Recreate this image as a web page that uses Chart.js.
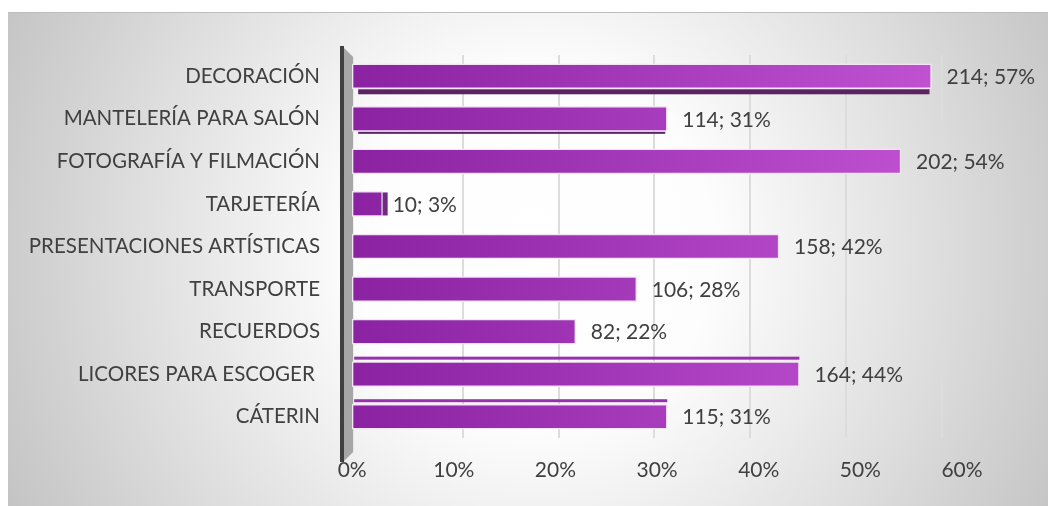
<!DOCTYPE html>
<html>
<head>
<meta charset="utf-8">
<script src="https://cdn.jsdelivr.net/npm/chart.js@4/dist/chart.umd.min.js"></script>
<style>
  html, body { margin: 0; padding: 0; background: #ffffff; }
  #wrap { width: 1048px; height: 506px; position: relative; }
</style>
</head>
<body>
<div id="wrap"><canvas id="c" width="1048" height="506"></canvas></div>
<script>
const categories = ['DECORACIÓN', 'MANTELERÍA PARA SALÓN', 'FOTOGRAFÍA Y FILMACIÓN', 'TARJETERÍA',
  'PRESENTACIONES ARTÍSTICAS', 'TRANSPORTE', 'RECUERDOS', 'LICORES PARA ESCOGER ', 'CÁTERIN'];
const counts = [214, 114, 202, 10, 158, 106, 82, 164, 115];
const percents = [57, 31, 54, 3, 42, 28, 22, 44, 31];
const xTicks = [0, 10, 20, 30, 40, 50, 60];
const gridTicks = [10, 20, 30, 40, 50, 60];

const FONT = 'Lato, "Open Sans", sans-serif';
const TEXT = '#404040';

const bgPlugin = {
  id: 'bg',
  beforeDraw(chart) {
    const ctx = chart.ctx;
    ctx.save();
    ctx.fillStyle = '#ffffff';
    ctx.fillRect(0, 0, chart.width, chart.height);
    const g = ctx.createRadialGradient(535, 250, 0, 535, 250, 600);
    g.addColorStop(0, '#ffffff');
    g.addColorStop(0.3, '#fdfdfd');
    g.addColorStop(1, '#c2c2c2');
    ctx.fillStyle = g;
    ctx.fillRect(8, 12, chart.width - 8, chart.height - 12);
    ctx.strokeStyle = '#bdbdbd';
    ctx.lineWidth = 1;
    ctx.beginPath();
    ctx.moveTo(8, 12.5); ctx.lineTo(chart.width, 12.5);
    ctx.stroke();
    ctx.restore();
  }
};

const wallPlugin = {
  id: 'wall',
  beforeDatasetsDraw(chart) {
    const ctx = chart.ctx, x = chart.scales.x, a = chart.chartArea;
    const wx = x.getPixelForValue(-1);
    const zx = x.getPixelForValue(0);
    const top = a.top - 8, bot = a.bottom + 24;
    ctx.save();
    ctx.fillStyle = '#a6a6a6';
    ctx.beginPath();
    ctx.moveTo(wx + 1, top);
    ctx.lineTo(zx + 1, top + 10);
    ctx.lineTo(zx + 1, bot - 10);
    ctx.lineTo(wx + 1, bot);
    ctx.closePath();
    ctx.fill();
    ctx.fillStyle = '#404040';
    ctx.fillRect(wx - 2, top - 1, 4, bot - top + 1);
    ctx.restore();
  }
};

const depthPlugin = {
  id: 'depth',
  afterDatasetsDraw(chart) {
    const ctx = chart.ctx;
    const meta = chart.getDatasetMeta(0);
    ctx.save();
    meta.data.forEach((bar, i) => {
      const p = bar.getProps(['x', 'y', 'base', 'height'], true);
      const left = p.base, right = p.x;
      if (i === 0 || i === 1) {
        const h = i === 0 ? 5 : 2;
        ctx.fillStyle = '#5c2363';
        ctx.fillRect(left + 6, p.y + p.height / 2 + 0.5, right - left - 8, h);
      }
      if (i === 7 || i === 8) {
        ctx.fillStyle = '#9a2fb0';
        ctx.fillRect(left + 2, p.y - p.height / 2 - 5, right - left - 2, 3);
      }
      if (i === 3) {
        ctx.fillStyle = '#6e2a80';
        ctx.fillRect(right, p.y - p.height / 2 + 1, 5, p.height - 2);
      }
    });
    ctx.restore();
  }
};

const labelPlugin = {
  id: 'vlabels',
  afterDatasetsDraw(chart) {
    const ctx = chart.ctx;
    const meta = chart.getDatasetMeta(0);
    ctx.save();
    ctx.font = '21px ' + FONT;
    ctx.fillStyle = TEXT;
    ctx.textAlign = 'left';
    ctx.textBaseline = 'middle';
    meta.data.forEach((bar, i) => {
      const p = bar.getProps(['x', 'y'], true);
      ctx.fillText(counts[i] + '; ' + percents[i] + '%', p.x + (i === 3 ? 10 : 15), p.y + 1);
    });
    ctx.restore();
  }
};

new Chart(document.getElementById('c'), {
  type: 'bar',
  data: {
    labels: categories,
    datasets: [{
      data: percents,
      barThickness: 25,
      borderWidth: 1.5,
      borderColor: '#f2e6f4',
      borderSkipped: false,
      backgroundColor(ctx) {
        const chart = ctx.chart, a = chart.chartArea;
        if (!a) return '#a030b8';
        const x = chart.scales.x;
        const g = chart.ctx.createLinearGradient(x.getPixelForValue(0), 0, x.getPixelForValue(57), 0);
        g.addColorStop(0, '#8a22a2');
        g.addColorStop(1, '#c052d2');
        return g;
      }
    }]
  },
  options: {
    indexAxis: 'y',
    responsive: false,
    animation: false,
    layout: { padding: { top: 55, right: 86, left: 0, bottom: 0 } },
    plugins: { legend: { display: false }, tooltip: { enabled: false } },
    scales: {
      x: {
        type: 'linear', position: 'bottom', min: -1, max: 60,
        afterBuildTicks(s) { s.ticks = xTicks.map(v => ({ value: v })); },
        afterFit(s) { s.height = 68; },
        grid: { display: false, drawTicks: false },
        border: { display: false },
        ticks: { padding: 20, color: TEXT, font: { family: FONT, size: 21 }, callback: v => v + '%' }
      },
      x2: {
        type: 'linear', position: 'top', min: -2.609, max: 62.09,
        afterBuildTicks(s) { s.ticks = gridTicks.map(v => ({ value: v })); },
        afterFit(s) { s.height = 0; },
        grid: { color: '#dcdcdc', lineWidth: 2, drawTicks: false },
        border: { display: false },
        ticks: { display: false }
      },
      y: {
        afterFit(s) { s.width = 342; },
        grid: { display: false, drawTicks: false },
        border: { display: false },
        ticks: { padding: 22, color: TEXT, font: { family: FONT, size: 20.5 } }
      }
    }
  },
  plugins: [bgPlugin, wallPlugin, depthPlugin, labelPlugin]
});
</script>
</body>
</html>
